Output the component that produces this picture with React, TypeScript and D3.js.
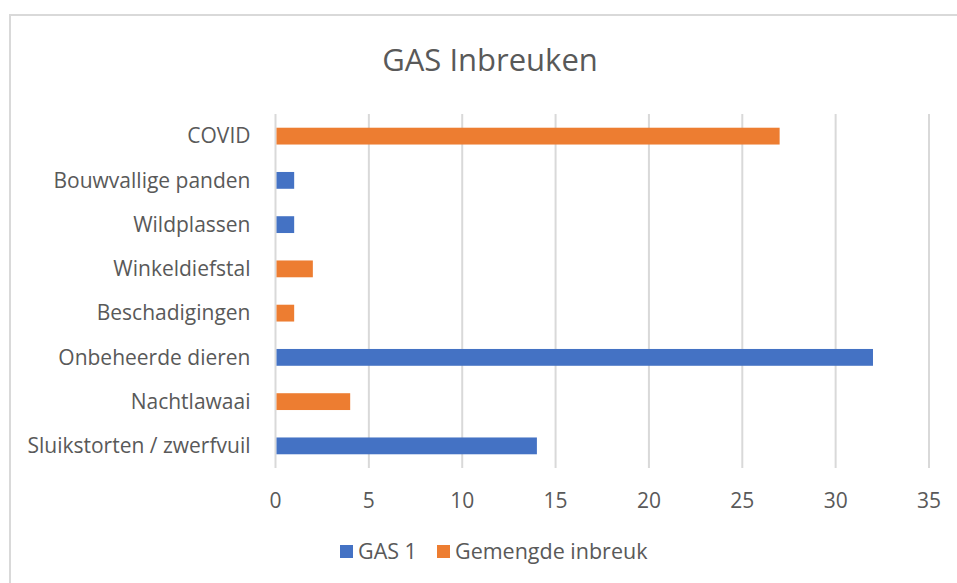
import * as d3 from "d3";
import { useEffect, useRef } from "react";

const categories = [
  "COVID",
  "Bouwvallige panden",
  "Wildplassen",
  "Winkeldiefstal",
  "Beschadigingen",
  "Onbeheerde dieren",
  "Nachtlawaai",
  "Sluikstorten / zwerfvuil",
];
const values = [27, 1, 1, 2, 1, 32, 4, 14];
const seriesOf = [
  "Gemengde inbreuk",
  "GAS 1",
  "GAS 1",
  "Gemengde inbreuk",
  "Gemengde inbreuk",
  "GAS 1",
  "Gemengde inbreuk",
  "GAS 1",
];
const seriesNames = ["GAS 1", "Gemengde inbreuk"];
const seriesColors = ["#4472c4", "#ed7d31"];
const xTicks = [0, 5, 10, 15, 20, 25, 30, 35];

const App = () => {
  const ref = useRef<SVGSVGElement>(null);
  const width = 957;
  const height = 583;

  useEffect(() => {
    const margin = { top: 114, right: 28, bottom: 115, left: 275.5 };
    const svg = d3.select(ref.current);
    svg.selectAll("*").remove();
    const font = "'Open Sans', 'Segoe UI', sans-serif";
    const textColor = "#595959";

    // chart border
    svg
      .append("rect")
      .attr("x", 10)
      .attr("y", 15)
      .attr("width", 980)
      .attr("height", 600)
      .attr("fill", "white")
      .attr("stroke", "#d9d9d9")
      .attr("stroke-width", 2);

    const x = d3
      .scaleLinear()
      .domain([0, 35])
      .range([margin.left, width - margin.right]);

    const y = d3
      .scaleBand()
      .domain(categories)
      .range([margin.top, height - margin.bottom])
      .paddingInner(0.62)
      .paddingOuter(0.31);

    const color = d3.scaleOrdinal<string>().domain(seriesNames).range(seriesColors);

    // gridlines
    svg
      .append("g")
      .selectAll("line")
      .data(xTicks)
      .join("line")
      .attr("x1", (d) => x(d))
      .attr("x2", (d) => x(d))
      .attr("y1", margin.top)
      .attr("y2", height - margin.bottom)
      .attr("stroke", "#d9d9d9")
      .attr("stroke-width", 2);

    // bars
    svg
      .append("g")
      .selectAll("rect")
      .data(values)
      .join("rect")
      .attr("x", x(0) + 1)
      .attr("y", (_, i) => y(categories[i])!)
      .attr("width", (d) => x(d) - x(0) - 1)
      .attr("height", y.bandwidth())
      .attr("fill", (_, i) => color(seriesOf[i]));

    // category labels
    svg
      .append("g")
      .selectAll("text")
      .data(categories)
      .join("text")
      .attr("x", margin.left - 25)
      .attr("y", (d) => y(d)! + y.bandwidth() / 2)
      .attr("dy", "0.35em")
      .attr("text-anchor", "end")
      .attr("font-family", font)
      .attr("font-size", 21)
      .attr("fill", textColor)
      .text((d) => d);

    // x tick labels
    svg
      .append("g")
      .selectAll("text")
      .data(xTicks)
      .join("text")
      .attr("x", (d) => x(d))
      .attr("y", 501)
      .attr("dy", "0.35em")
      .attr("text-anchor", "middle")
      .attr("font-family", font)
      .attr("font-size", 21)
      .attr("fill", textColor)
      .text((d) => d);

    // title
    svg
      .append("text")
      .attr("x", 490)
      .attr("y", 60)
      .attr("dy", "0.35em")
      .attr("text-anchor", "middle")
      .attr("font-family", font)
      .attr("font-size", 31)
      .attr("fill", textColor)
      .text("GAS Inbreuken");

    // legend
    const legendX = [340, 437];
    const legend = svg
      .append("g")
      .selectAll("g")
      .data(seriesNames)
      .join("g")
      .attr("transform", (_, i) => `translate(${legendX[i]}, 551)`);
    legend
      .append("rect")
      .attr("x", 0)
      .attr("y", -6)
      .attr("width", 13)
      .attr("height", 13)
      .attr("fill", (d) => color(d));
    legend
      .append("text")
      .attr("x", 18)
      .attr("y", 0)
      .attr("dy", "0.35em")
      .attr("font-family", font)
      .attr("font-size", 21.5)
      .attr("fill", textColor)
      .text((d) => d);
  }, []);

  return (
    <svg
      ref={ref}
      width={width}
      height={height}
      style={{ position: "absolute", top: 0, left: 0 }}
    ></svg>
  );
};

export default App;
